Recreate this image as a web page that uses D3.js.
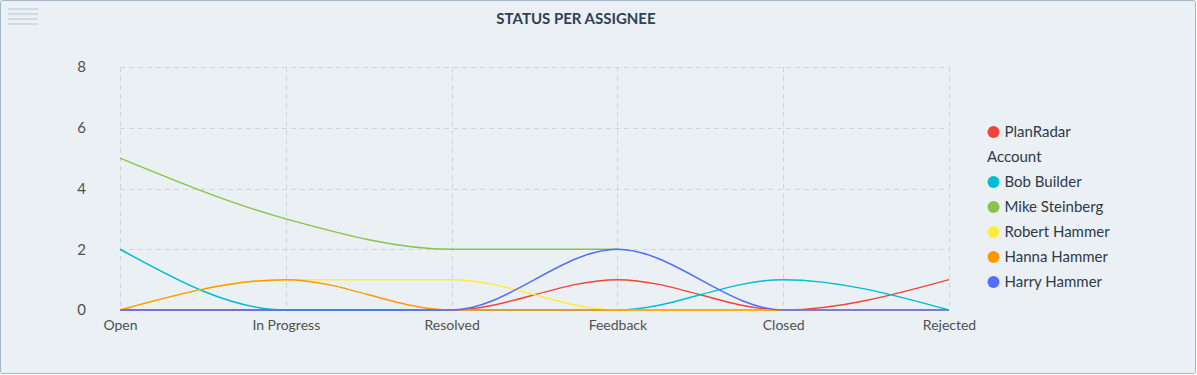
<!DOCTYPE html>
<html>
<head>
<meta charset="utf-8">
<script src="https://cdn.jsdelivr.net/npm/d3@7/dist/d3.min.js"></script>
<style>
  html, body { margin: 0; padding: 0; background: #fff; }
  #chart { width: 1197px; height: 375px; }
  text { font-family: Lato, 'Open Sans', sans-serif; }
</style>
</head>
<body>
<div id="chart"></div>
<script>
const statuses = ['Open', 'In Progress', 'Resolved', 'Feedback', 'Closed', 'Rejected'];
const yTicks = [0, 2, 4, 6, 8];

const assignees = ['PlanRadar Account', 'Bob Builder', 'Mike Steinberg', 'Robert Hammer', 'Hanna Hammer', 'Harry Hammer'];
const colors = ['#f44336', '#00bcd4', '#8bc34a', '#ffeb3b', '#ff9800', '#536dfe'];

const planRadarValues = [0, 0, 0, 1, 0, 1];
const bobValues = [2, 0, 0, 0, 1, 0];
const mikeValues = [5, 3, 2, 2, null, null];
const robertValues = [0, 1, 1, 0, 0, 0];
const hannaValues = [0, 1, 0, 0, 0, 0];
const harryValues = [0, 0, 0, 2, 0, 0];

const seriesValues = [planRadarValues, bobValues, mikeValues, robertValues, hannaValues, harryValues];

const width = 1197, height = 375;
const plot = {left: 120, right: 949, top: 67, bottom: 310};

const svg = d3.select('#chart').append('svg')
  .attr('width', width)
  .attr('height', height);

// panel
svg.append('rect')
  .attr('x', 0.5).attr('y', 0.5)
  .attr('width', width - 2).attr('height', height - 2)
  .attr('rx', 2)
  .attr('fill', '#ebf0f5')
  .attr('stroke', '#a3b6c9');

// menu icon
const menu = svg.append('g').attr('class', 'menu');
[9, 14, 19, 24].forEach(y => {
  menu.append('rect')
    .attr('x', 8).attr('y', y - 1)
    .attr('width', 30).attr('height', 2)
    .attr('fill', '#d0dbe5');
});

svg.append('text')
  .attr('x', 576).attr('y', 24)
  .attr('text-anchor', 'middle')
  .attr('font-size', 15)
  .attr('font-weight', 700)
  .attr('fill', '#2e4053')
  .text('STATUS PER ASSIGNEE');

const xScale = d3.scalePoint()
  .domain(statuses)
  .range([plot.left, plot.right]);

const yScale = d3.scaleLinear()
  .domain([0, 8])
  .range([plot.bottom, plot.top]);

// grid
const grid = svg.append('g').attr('class', 'grid')
  .attr('stroke', '#d0d4d8')
  .attr('stroke-width', 1)
  .attr('stroke-dasharray', '5,4');

grid.selectAll('line.h')
  .data(yTicks.filter(t => t > 0))
  .enter()
  .append('line')
  .attr('class', 'h')
  .attr('x1', plot.left).attr('x2', plot.right)
  .attr('y1', d => Math.round(yScale(d)) + 0.5)
  .attr('y2', d => Math.round(yScale(d)) + 0.5);

grid.selectAll('line.v')
  .data(statuses)
  .enter()
  .append('line')
  .attr('class', 'v')
  .attr('x1', d => Math.round(xScale(d)) + 0.5)
  .attr('x2', d => Math.round(xScale(d)) + 0.5)
  .attr('y1', plot.top).attr('y2', plot.bottom);

// axes
const yAxis = d3.axisLeft(yScale).tickValues(yTicks).tickSize(0).tickPadding(0);
const yAxisGroup = svg.append('g')
  .attr('transform', 'translate(86,0)')
  .call(yAxis);
yAxisGroup.select('.domain').remove();
yAxisGroup.selectAll('text')
  .attr('font-family', 'Lato, sans-serif')
  .attr('font-size', 15)
  .attr('fill', '#505050');

const xAxis = d3.axisBottom(xScale).tickSize(0).tickPadding(0);
const xAxisGroup = svg.append('g')
  .attr('transform', 'translate(0,' + (plot.bottom + 10) + ')')
  .call(xAxis);
xAxisGroup.select('.domain').remove();
xAxisGroup.selectAll('text')
  .attr('font-family', 'Lato, sans-serif')
  .attr('font-size', 14)
  .attr('fill', '#505050');

// lines
const line = d3.line()
  .defined(d => d.value !== null)
  .x(d => xScale(d.status))
  .y(d => yScale(d.value))
  .curve(d3.curveMonotoneX);

const lineGroup = svg.append('g').attr('class', 'lines');
seriesValues.forEach((values, i) => {
  const points = statuses.map((s, j) => ({status: s, value: values[j]}));
  lineGroup.append('path')
    .datum(points)
    .attr('fill', 'none')
    .attr('stroke', colors[i])
    .attr('stroke-width', 1.5)
    .attr('d', line);
});

// legend
const legendRows = [
  {label: 'PlanRadar', color: colors[0], y: 132},
  {label: 'Account', color: null, y: 157},
  {label: 'Bob Builder', color: colors[1], y: 182},
  {label: 'Mike Steinberg', color: colors[2], y: 207},
  {label: 'Robert Hammer', color: colors[3], y: 232},
  {label: 'Hanna Hammer', color: colors[4], y: 257},
  {label: 'Harry Hammer', color: colors[5], y: 282}
];

const legend = svg.append('g').attr('class', 'legend');
const legendItem = legend.selectAll('g')
  .data(legendRows)
  .enter()
  .append('g');

legendItem.filter(d => d.color)
  .append('circle')
  .attr('cx', 993.5)
  .attr('cy', d => d.y)
  .attr('r', 6)
  .attr('fill', d => d.color);

legendItem.append('text')
  .attr('x', d => d.color ? 1004.5 : 987)
  .attr('y', d => d.y + 5)
  .attr('font-size', 15)
  .attr('fill', '#2e3a48')
  .text(d => d.label);
</script>
</body>
</html>
